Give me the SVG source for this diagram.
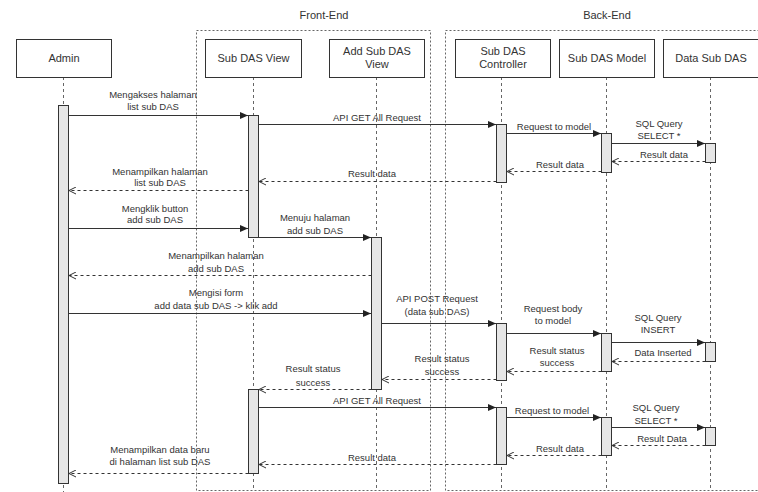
<svg xmlns="http://www.w3.org/2000/svg" width="758" height="492" viewBox="0 0 758 492">
<style>
text{font-family:"Liberation Sans",Arial,sans-serif;fill:#333;text-anchor:middle}
.t{font-size:11px}
.l{font-size:9.5px}
.box{fill:#fff;stroke:#333;stroke-width:1}
.frame{fill:none;stroke:#666;stroke-width:1;stroke-dasharray:2,2}
.life{stroke:#666;stroke-width:1;stroke-dasharray:3,3;fill:none}
.act{fill:#e6e6e6;stroke:#333;stroke-width:1}
.msg{stroke:#333;stroke-width:1;fill:none;marker-end:url(#block)}
.ret{stroke:#333;stroke-width:1;fill:none;stroke-dasharray:3,3;marker-end:url(#open)}
</style>
<defs>
<marker id="block" markerWidth="8" markerHeight="7" refX="8" refY="3.5" orient="auto" markerUnits="userSpaceOnUse">
<path d="M0,0 L8,3.5 L0,7 z" fill="#222"/>
</marker>
<marker id="open" markerWidth="8" markerHeight="8" refX="7" refY="4" orient="auto" markerUnits="userSpaceOnUse">
<path d="M0,0.5 L7,4 L0,7.5" fill="none" stroke="#333" stroke-width="1"/>
</marker>
</defs>
<rect width="758" height="492" fill="#fff"/>

<g id="frame-front">
<rect class="frame" x="196.5" y="30.5" width="234" height="460"/>
<text class="t" x="324" y="19">Front-End</text>
</g>
<g id="frame-back">
<rect class="frame" x="445.5" y="30.5" width="330" height="460"/>
<text class="t" x="607" y="19">Back-End</text>
</g>

<g id="lifelines">
<line class="life" x1="63.5" y1="77" x2="63.5" y2="492"/>
<line class="life" x1="253.5" y1="77" x2="253.5" y2="490"/>
<line class="life" x1="376.5" y1="77" x2="376.5" y2="490"/>
<line class="life" x1="501.5" y1="77" x2="501.5" y2="490"/>
<line class="life" x1="606.5" y1="77" x2="606.5" y2="490"/>
<line class="life" x1="710.5" y1="77" x2="710.5" y2="490"/>
</g>

<g id="admin">
<rect class="box" x="16.5" y="39.5" width="95" height="38"/>
<text class="t" x="64" y="62">Admin</text>
<rect class="act" x="58.5" y="105.5" width="10" height="378"/>
</g>
<g id="sub-das-view">
<rect class="box" x="205.5" y="39.5" width="96" height="38"/>
<text class="t" x="253.5" y="62">Sub DAS View</text>
<rect class="act" x="248.5" y="115.5" width="10" height="122"/>
<rect class="act" x="248.5" y="389.5" width="10" height="84"/>
</g>
<g id="add-sub-das-view">
<rect class="box" x="329.5" y="39.5" width="95" height="38"/>
<text class="t" x="377" y="55">Add Sub DAS</text>
<text class="t" x="377" y="68">View</text>
<rect class="act" x="371.5" y="237.5" width="10" height="152"/>
</g>
<g id="sub-das-controller">
<rect class="box" x="455.5" y="39.5" width="95" height="38"/>
<text class="t" x="503" y="55">Sub DAS</text>
<text class="t" x="503" y="68">Controller</text>
<rect class="act" x="496.5" y="124.5" width="10" height="58"/>
<rect class="act" x="496.5" y="323.5" width="10" height="57"/>
<rect class="act" x="496.5" y="407.5" width="10" height="57"/>
</g>
<g id="sub-das-model">
<rect class="box" x="559.5" y="39.5" width="95" height="38"/>
<text class="t" x="607" y="62">Sub DAS Model</text>
<rect class="act" x="601.5" y="133.5" width="10" height="39"/>
<rect class="act" x="601.5" y="333.5" width="10" height="38"/>
<rect class="act" x="601.5" y="417.5" width="10" height="38"/>
</g>
<g id="data-sub-das">
<rect class="box" x="663.5" y="39.5" width="95" height="38"/>
<text class="t" x="711" y="62">Data Sub DAS</text>
<rect class="act" x="705.5" y="143.5" width="10" height="19"/>
<rect class="act" x="705.5" y="342.5" width="10" height="19"/>
<rect class="act" x="705.5" y="427.5" width="10" height="18"/>
</g>

<g id="connectors">
<line class="msg" x1="68.5" y1="115.5" x2="248" y2="115.5"/>
<line class="msg" x1="258.5" y1="124.5" x2="496" y2="124.5"/>
<line class="msg" x1="506.5" y1="133.5" x2="601" y2="133.5"/>
<line class="msg" x1="611.5" y1="143.5" x2="705" y2="143.5"/>
<line class="ret" x1="705.5" y1="161.5" x2="612" y2="161.5"/>
<line class="ret" x1="601.5" y1="171.5" x2="507" y2="171.5"/>
<line class="ret" x1="496.5" y1="181.5" x2="259" y2="181.5"/>
<line class="ret" x1="248.5" y1="190.5" x2="69" y2="190.5"/>
<line class="msg" x1="68.5" y1="228.5" x2="248" y2="228.5"/>
<line class="msg" x1="258.5" y1="237.5" x2="371" y2="237.5"/>
<line class="ret" x1="371.5" y1="275.5" x2="69" y2="275.5"/>
<line class="msg" x1="68.5" y1="313.5" x2="371" y2="313.5"/>
<line class="msg" x1="381.5" y1="323.5" x2="496" y2="323.5"/>
<line class="msg" x1="506.5" y1="333.5" x2="601" y2="333.5"/>
<line class="msg" x1="611.5" y1="342.5" x2="705" y2="342.5"/>
<line class="ret" x1="705.5" y1="361.5" x2="612" y2="361.5"/>
<line class="ret" x1="601.5" y1="371.5" x2="507" y2="371.5"/>
<line class="ret" x1="496.5" y1="379.5" x2="382" y2="379.5"/>
<line class="ret" x1="371.5" y1="389.5" x2="259" y2="389.5"/>
<line class="msg" x1="258.5" y1="407.5" x2="496" y2="407.5"/>
<line class="msg" x1="506.5" y1="417.5" x2="601" y2="417.5"/>
<line class="msg" x1="611.5" y1="427.5" x2="705" y2="427.5"/>
<line class="ret" x1="705.5" y1="445.5" x2="612" y2="445.5"/>
<line class="ret" x1="601.5" y1="455.5" x2="507" y2="455.5"/>
<line class="ret" x1="496.5" y1="464.5" x2="259" y2="464.5"/>
<line class="ret" x1="248.5" y1="473.5" x2="69" y2="473.5"/>
</g>

<g id="labels">
<text class="l" x="153" y="97.5">Mengakses halaman</text>
<text class="l" x="153" y="110">list sub DAS</text>
<text class="l" x="377" y="121">API GET All Request</text>
<text class="l" x="554" y="129.5">Request to model</text>
<text class="l" x="659" y="126.5">SQL Query</text>
<text class="l" x="659" y="139">SELECT *</text>
<text class="l" x="664" y="158">Result data</text>
<text class="l" x="560" y="167.5">Result data</text>
<text class="l" x="372" y="176.5">Result data</text>
<text class="l" x="160" y="174.5">Menampilkan halaman</text>
<text class="l" x="160" y="185.5">list sub DAS</text>
<text class="l" x="155" y="211.5">Mengklik button</text>
<text class="l" x="155" y="222.5">add sub DAS</text>
<text class="l" x="315" y="220.5">Menuju halaman</text>
<text class="l" x="315" y="234">add sub DAS</text>
<text class="l" x="216" y="258.5">Menampilkan halaman</text>
<text class="l" x="216" y="272">add sub DAS</text>
<text class="l" x="216" y="295.5">Mengisi form</text>
<text class="l" x="216" y="309">add data sub DAS -&gt; klik add</text>
<text class="l" x="437" y="301.5">API POST Request</text>
<text class="l" x="437" y="314.5">(data sub DAS)</text>
<text class="l" x="553" y="311.5">Request body</text>
<text class="l" x="553" y="323.5">to model</text>
<text class="l" x="658" y="320.5">SQL Query</text>
<text class="l" x="658" y="333">INSERT</text>
<text class="l" x="663" y="355.5">Data Inserted</text>
<text class="l" x="557" y="353.5">Result status</text>
<text class="l" x="557" y="366">success</text>
<text class="l" x="442" y="361.5">Result status</text>
<text class="l" x="442" y="375">success</text>
<text class="l" x="313" y="371.5">Result status</text>
<text class="l" x="313" y="386">success</text>
<text class="l" x="377" y="403.5">API GET All Request</text>
<text class="l" x="552" y="413.5">Request to model</text>
<text class="l" x="656" y="410.5">SQL Query</text>
<text class="l" x="656" y="423.5">SELECT *</text>
<text class="l" x="662" y="441.5">Result Data</text>
<text class="l" x="560" y="451.5">Result data</text>
<text class="l" x="372" y="460.5">Result data</text>
<text class="l" x="160" y="452.5">Menampilkan data baru</text>
<text class="l" x="160" y="464.5">di halaman list sub DAS</text>
</g>
</svg>
